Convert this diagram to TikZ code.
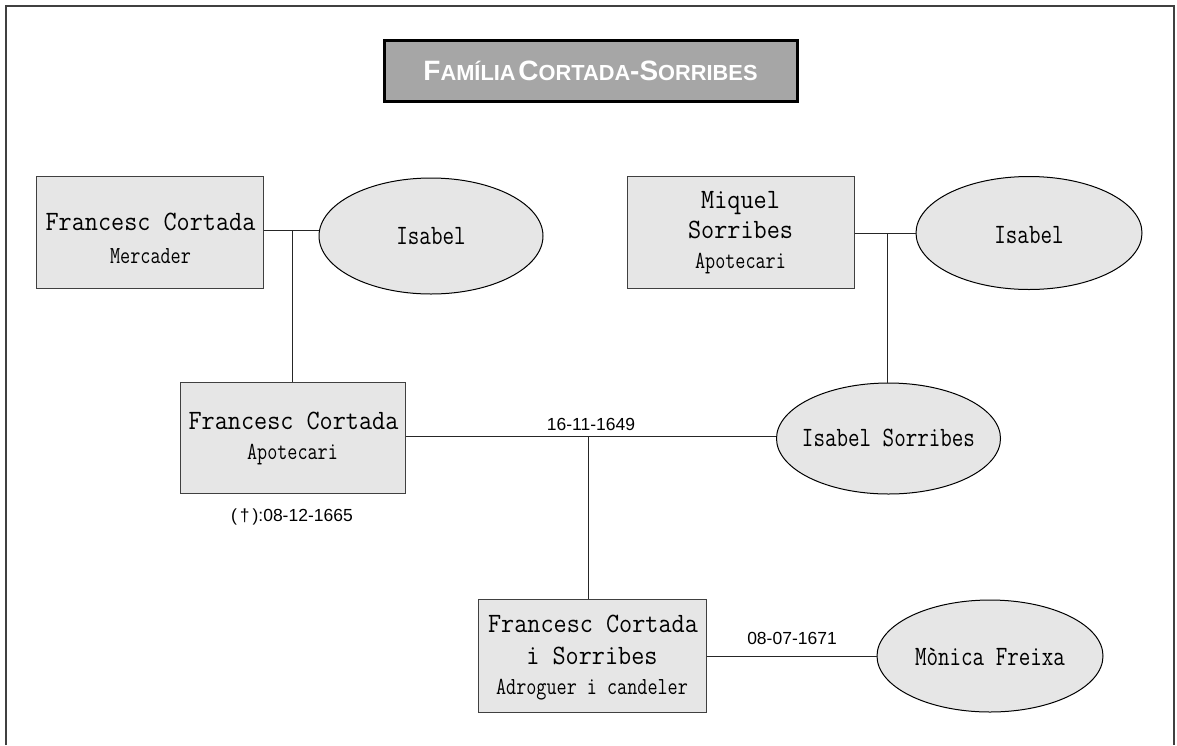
\documentclass[tikz,border=0pt]{standalone}
\usepackage{fontspec}
\setmainfont{Liberation Sans}
\newfontfamily\namefont[FakeStretch=0.91]{Latin Modern Mono}
\newfontfamily\condfont[FakeStretch=0.8]{Latin Modern Mono}
\newfontfamily\jobfont[FakeStretch=0.8]{Latin Modern Mono}
\newfontfamily\datefont{Liberation Sans}
\definecolor{boxfill}{HTML}{E6E6E6}
\definecolor{titlefill}{HTML}{A6A6A6}
\definecolor{edge}{HTML}{404040}
\newcommand{\bigc}[1]{{\fontsize{28}{28}\selectfont #1}}
\newcommand{\smc}[1]{{\fontsize{21.8}{21.8}\selectfont #1}}
\begin{document}
\begin{tikzpicture}[x=1pt,y=-1pt,
  person/.style={draw=edge, line width=1pt, fill=boxfill, inner sep=0pt},
  spouse/.style={ellipse, draw=black, line width=1pt, fill=boxfill, inner sep=0pt},
  nm/.style={font=\namefont\fontsize{28}{28}\selectfont, inner sep=0pt, anchor=base},
  enm/.style={font=\condfont\fontsize{28}{28}\selectfont, inner sep=0pt, anchor=base},
  job/.style={font=\jobfont\fontsize{24.5}{24.5}\selectfont, inner sep=0pt, anchor=base},
  dt/.style={font=\datefont\fontsize{17.5}{17.5}\selectfont, inner sep=0pt},
  link/.style={draw=black!85, line width=1pt}]
\usetikzlibrary{shapes.geometric}
\useasboundingbox (0,0) rectangle (1177,745);
% outer frame
\draw[edge, line width=2pt] (6,745) -- (6,6) -- (1174,6) -- (1174,745);
% title
\node[draw=black, line width=3pt, fill=titlefill, minimum width=413pt, minimum height=61pt, inner sep=0pt,
  text=white, font=\bfseries] (title) at (590.5,70.5)
  {\bigc{F}\smc{AMÍLIA} \bigc{C}\smc{ORTADA}\bigc{-S}\smc{ORRIBES}};
% persons (boxes)
\node[person, minimum width=227pt, minimum height=112pt] (fc1) at (149.5,232) {};
\node[person, minimum width=227pt, minimum height=112pt] (ms) at (740.5,232) {};
\node[person, minimum width=225pt, minimum height=111pt] (fc2) at (292.5,437.5) {};
\node[person, minimum width=228pt, minimum height=113pt] (fc3) at (592,655.5) {};
% spouses (ellipses)
\node[spouse, minimum width=224pt, minimum height=116pt] (is1) at (431,236) {};
\node[spouse, minimum width=226pt, minimum height=113pt] (is2) at (1029,233) {};
\node[spouse, minimum width=224pt, minimum height=111pt] (is3) at (888.5,438.5) {};
\node[spouse, minimum width=226pt, minimum height=112pt] (mf) at (990,656) {};
% texts
\node[nm] (fc1a) at (150.5,230) {Francesc Cortada};
\node[job] (fc1b) at (150.5,263) {Mercader};
\node[nm] (msa) at (740.5,208.5) {Miquel};
\node[nm] (msb) at (740.5,238.5) {Sorribes};
\node[job] (msc) at (740.5,268.5) {Apotecari};
\node[nm] (fc2a) at (293.5,429.5) {Francesc Cortada};
\node[job] (fc2b) at (292.5,459.5) {Apotecari};
\node[nm] (fc3a) at (593,632.5) {Francesc Cortada};
\node[nm] (fc3b) at (592,664.5) {i Sorribes};
\node[job] (fc3c) at (592,694.5) {Adroguer i candeler};
\node[enm] (is1t) at (431,244.5) {Isabel};
\node[enm] (is2t) at (1029,243) {Isabel};
\node[enm] (is3t) at (888.5,446.5) {Isabel Sorribes};
\node[enm] (mft) at (990,665.5) {Mònica Freixa};
\node[dt] (d1) at (591,424) {16-11-1649};
\node[dt] (d2) at (292,517) {(\,†\,):08-12-1665};
\node[dt] (d3) at (792,638) {08-07-1671};
% connectors
\coordinate (j1) at (292,230);
\coordinate (j2) at (887,233);
\coordinate (j3) at (588,436);
\draw[link] (fc1.east |- j1) -- (is1.west |- j1);
\draw[link] (j1) -- (j1 |- fc2.north);
\draw[link] (ms.east |- j2) -- (is2.west |- j2);
\draw[link] (j2) -- (j2 |- is3.north);
\draw[link] (fc2.east |- j3) -- (is3.west |- j3);
\draw[link] (j3) -- (j3 |- fc3.north);
\draw[link] (fc3.east |- mf.west) -- (mf.west);
\end{tikzpicture}
\end{document}
